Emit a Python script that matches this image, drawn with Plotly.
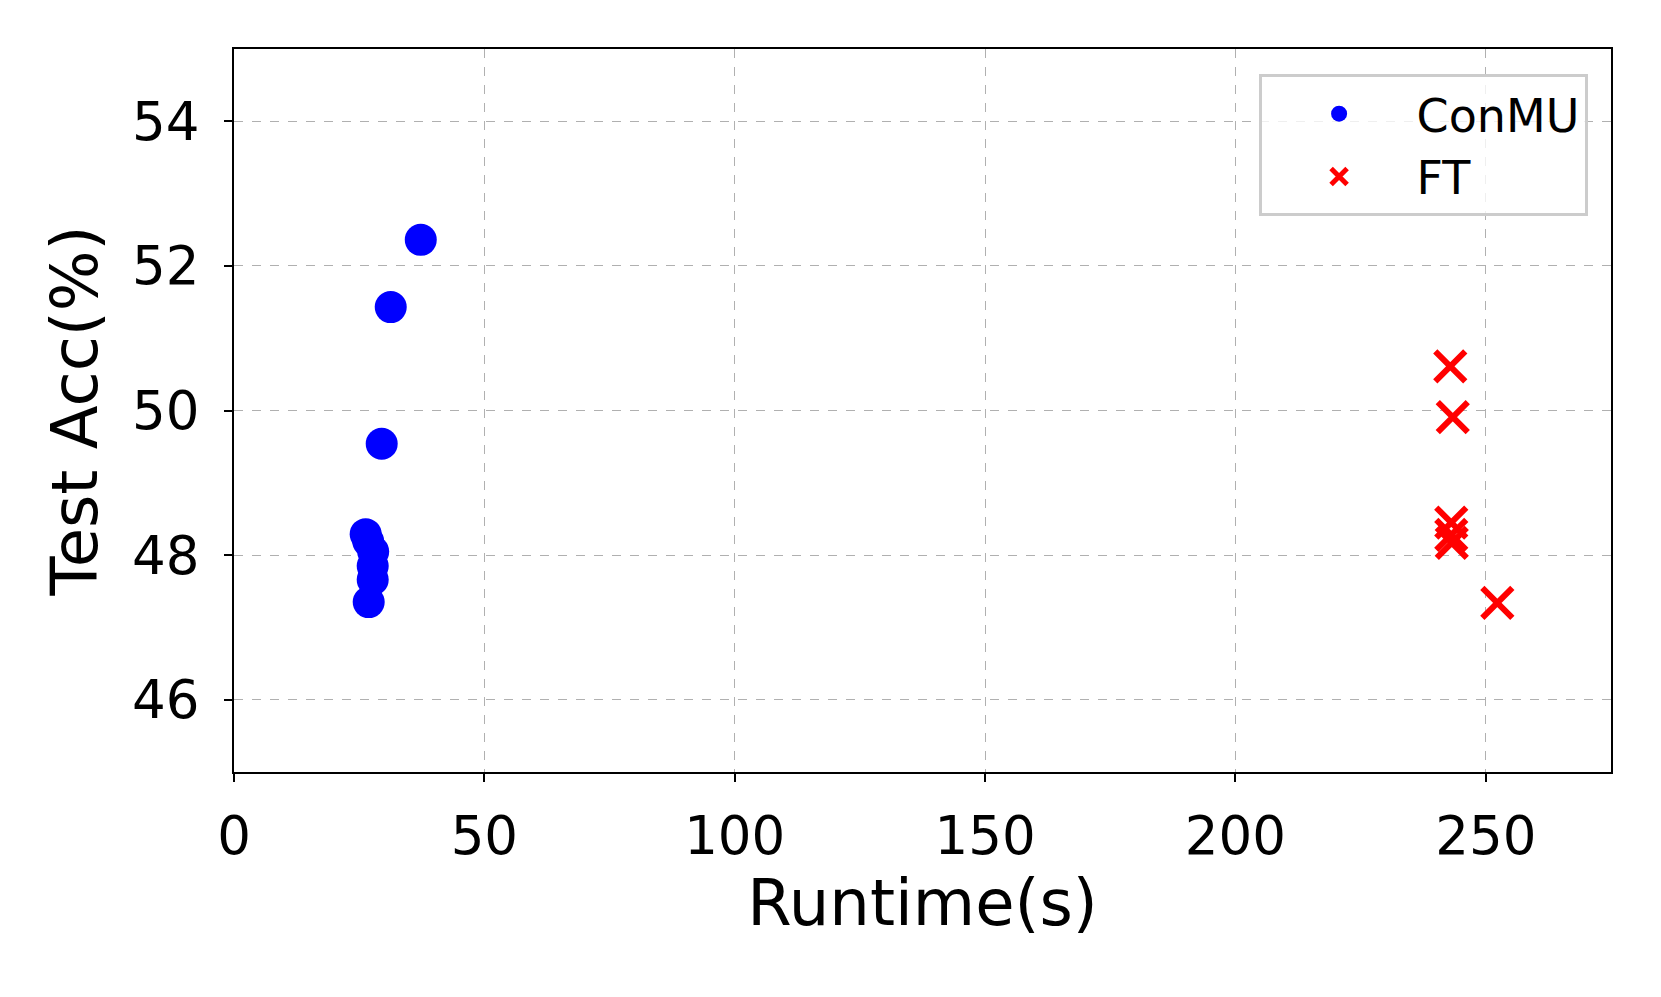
import plotly.graph_objects as go

# ConMU runs
conmu_runtime = [37.3, 31.3, 29.5, 26.3, 26.8, 27.8, 27.7, 27.7, 26.9]
conmu_acc = [52.36, 51.43, 49.54, 48.29, 48.19, 48.05, 47.85, 47.66, 47.35]

# FT runs
ft_runtime = [242.9, 243.4, 243.1, 243.1, 243.2, 252.3]
ft_acc = [50.61, 49.91, 48.45, 48.28, 48.17, 47.34]

x_ticks = [0, 50, 100, 150, 200, 250]
y_ticks = [46, 48, 50, 52, 54]

fig = go.Figure()
fig.add_trace(go.Scatter(
    x=conmu_runtime, y=conmu_acc, mode="markers", name="ConMU",
    marker=dict(color="#0000ff", size=32, symbol="circle", line=dict(width=0)),
))
fig.add_trace(go.Scatter(
    x=ft_runtime, y=ft_acc, mode="markers", name="FT",
    marker=dict(color="#ff0000", size=30, symbol="x-thin",
                line=dict(width=6, color="#ff0000")),
))

axis_common = dict(
    showline=True, linecolor="black", linewidth=2, mirror=True,
    ticks="outside", tickcolor="black", ticklen=8, tickwidth=2,
    showgrid=True, gridcolor="#b0b0b0", gridwidth=1.3, griddash="dash",
    zeroline=False, tickfont=dict(size=53, color="black"),
)

fig.update_xaxes(range=[0, 275], tickvals=x_ticks, ticklabelstandoff=8,
                 title=dict(text="Runtime(s)", font=dict(size=64, color="black"), standoff=12),
                 **axis_common)
fig.update_yaxes(range=[45, 55], tickvals=y_ticks, ticklabelstandoff=14,
                 title=dict(text="Test Acc(%)", font=dict(size=64, color="black"), standoff=14),
                 **axis_common)

fig.update_layout(
    width=1661, height=997,
    margin=dict(l=226, r=58, t=41, b=233),
    plot_bgcolor="white", paper_bgcolor="white",
    font=dict(family="DejaVu Sans", color="black"),
    legend=dict(
        x=0.983, y=0.965, xanchor="right", yanchor="top",
        bgcolor="rgba(255,255,255,0.8)", bordercolor="#cccccc", borderwidth=3,
        font=dict(size=46, color="black"), itemwidth=145,
        tracegroupgap=0,
    ),
)

fig.write_html("out.html")
